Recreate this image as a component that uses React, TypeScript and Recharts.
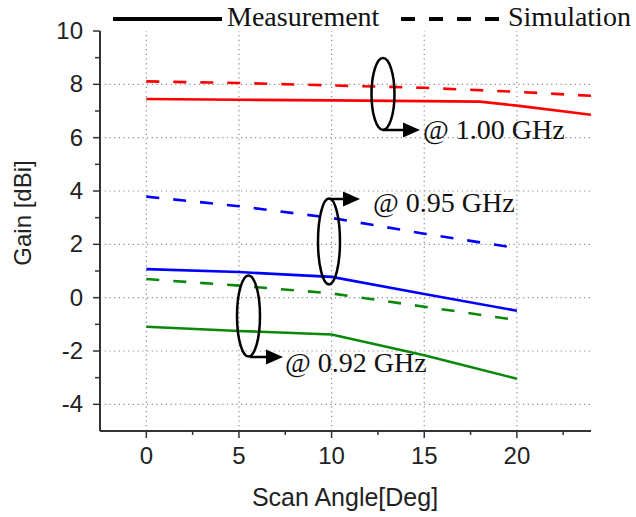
import { LineChart, Line, XAxis, YAxis, ReferenceLine } from 'recharts';

const X_TICKS = [0, 2.5, 5, 7.5, 10, 12.5, 15, 17.5, 20, 22.5];
const X_GRID = [0, 5, 10, 15, 20];
const Y_TICKS = [-4, -3, -2, -1, 0, 1, 2, 3, 4, 5, 6, 7, 8, 9, 10];
const Y_GRID = [-4, -2, 0, 2, 4, 6, 8];

const ANGLES = [0, 5, 10, 15, 20];

// @ 1.00 GHz
const ANGLES_100_MEAS = [0, 5, 10, 15, 18, 20, 24];
const GAIN_100_MEAS = [7.45, 7.42, 7.4, 7.37, 7.35, 7.2, 6.86];
const ANGLES_100_SIM = [0, 5, 10, 15, 20, 24];
const GAIN_100_SIM = [8.11, 8.05, 7.96, 7.87, 7.72, 7.57];

// @ 0.95 GHz
const GAIN_095_MEAS = [1.07, 0.96, 0.78, 0.14, -0.49];
const GAIN_095_SIM = [3.79, 3.43, 2.99, 2.4, 1.86];

// @ 0.92 GHz
const GAIN_092_MEAS = [-1.09, -1.25, -1.38, -2.16, -3.04];
const GAIN_092_SIM = [0.7, 0.45, 0.16, -0.34, -0.84];

const W = 636;
const H = 517;
const AXIS = '#333';
const GRID = '#8a8a8a';
const SANS = '"Liberation Sans", Arial, sans-serif';
const SERIF = '"Liberation Serif", "Times New Roman", serif';
const DASH = '13 14';

const toPoints = (xs: number[], ys: number[]) => xs.map((angle, i) => ({ angle, gain: ys[i] }));

const SERIES = [
  { key: '100m', data: toPoints(ANGLES_100_MEAS, GAIN_100_MEAS), color: '#ff0000', dashed: false },
  { key: '100s', data: toPoints(ANGLES_100_SIM, GAIN_100_SIM), color: '#ff0000', dashed: true },
  { key: '095m', data: toPoints(ANGLES, GAIN_095_MEAS), color: '#0000ff', dashed: false },
  { key: '095s', data: toPoints(ANGLES, GAIN_095_SIM), color: '#0000ff', dashed: true },
  { key: '092m', data: toPoints(ANGLES, GAIN_092_MEAS), color: '#0a880a', dashed: false },
  { key: '092s', data: toPoints(ANGLES, GAIN_092_SIM), color: '#0a880a', dashed: true },
];

function XTick({ x, y, payload }: any) {
  const major = payload.value % 5 === 0;
  return (
    <g>
      <line x1={x} x2={x} y1={y} y2={y + (major ? 7 : 4)} stroke={AXIS} strokeWidth={1.5} />
      {major && (
        <text x={x} y={y + 33} textAnchor="middle" fontSize={24} fontFamily={SANS} fill="#222">
          {payload.value}
        </text>
      )}
    </g>
  );
}

function YTick({ x, y, payload }: any) {
  const major = payload.value % 2 === 0;
  return (
    <g>
      <line x1={x - (major ? 7 : 5)} x2={x} y1={y} y2={y} stroke={AXIS} strokeWidth={1.5} />
      {major && (
        <text x={x - 17} y={y + 8} textAnchor="end" fontSize={24} fontFamily={SANS} fill="#222">
          {payload.value}
        </text>
      )}
    </g>
  );
}

function Arrow({ x1, x2, y }: { x1: number; x2: number; y: number }) {
  return (
    <g>
      <line x1={x1} x2={x2 - 14} y1={y} y2={y} stroke="#000" strokeWidth={2.5} />
      <polygon points={`${x2},${y} ${x2 - 17},${y - 7.5} ${x2 - 17},${y + 7.5}`} fill="#000" />
    </g>
  );
}

function Overlay() {
  return (
    <svg width={W} height={H} style={{ position: 'absolute', left: 0, top: 0, pointerEvents: 'none' }}>
      {/* legend */}
      <line x1={113} x2={222} y1={19} y2={19} stroke="#000" strokeWidth={4} />
      <text x={227} y={26} fontSize={28} fontFamily={SERIF} fill="#111">Measurement</text>
      <line x1={401} x2={500} y1={19} y2={19} stroke="#000" strokeWidth={4} strokeDasharray="14 14" />
      <text x={508} y={26} fontSize={28} fontFamily={SERIF} fill="#111">Simulation</text>

      {/* axis titles */}
      <text x={345} y={506} textAnchor="middle" fontSize={25} fontFamily={SANS} fill="#222">
        Scan Angle[Deg]
      </text>
      <text
        x={31}
        y={213}
        textAnchor="middle"
        fontSize={24}
        fontFamily={SANS}
        fill="#222"
        transform="rotate(-90 31 213)"
      >
        Gain [dBi]
      </text>

      {/* annotations */}
      <ellipse cx={383} cy={94} rx={11.5} ry={36} fill="none" stroke="#000" strokeWidth={2.5} />
      <Arrow x1={383} x2={420} y={130} />
      <text x={423} y={139} fontSize={28} fontFamily={SERIF} fill="#111">@ 1.00 GHz</text>

      <ellipse cx={329} cy={241.5} rx={11} ry={43} fill="none" stroke="#000" strokeWidth={2.5} />
      <Arrow x1={330} x2={360} y={199} />
      <text x={373} y={212} fontSize={28} fontFamily={SERIF} fill="#111">@ 0.95 GHz</text>

      <ellipse cx={248.5} cy={316} rx={11.5} ry={40.5} fill="none" stroke="#000" strokeWidth={2.5} />
      <Arrow x1={250} x2={283} y={357} />
      <text x={285} y={372} fontSize={28} fontFamily={SERIF} fill="#111">@ 0.92 GHz</text>
    </svg>
  );
}

export default function App() {
  return (
    <div style={{ position: 'absolute', left: 0, top: 0, width: W, height: H, background: '#fff' }}>
      <LineChart width={W} height={H} margin={{ top: 31, right: 45, bottom: 0, left: 0 }}>
        <XAxis
          type="number"
          dataKey="angle"
          domain={[-2.5, 24]}
          ticks={X_TICKS}
          interval={0}
          allowDataOverflow
          height={86}
          tickSize={0}
          tickMargin={0}
          tickLine={false}
          tick={<XTick />}
          axisLine={{ stroke: AXIS, strokeWidth: 2 }}
        />
        <YAxis
          type="number"
          dataKey="gain"
          domain={[-5, 10]}
          ticks={Y_TICKS}
          interval={0}
          allowDataOverflow
          width={100}
          tickSize={0}
          tickMargin={0}
          tickLine={false}
          tick={<YTick />}
          axisLine={{ stroke: AXIS, strokeWidth: 2 }}
        />
        {X_GRID.map((v) => (
          <ReferenceLine key={`gx${v}`} x={v} stroke={GRID} strokeWidth={1.2} strokeDasharray="1.2 3.5" />
        ))}
        {Y_GRID.map((v) => (
          <ReferenceLine key={`gy${v}`} y={v} stroke={GRID} strokeWidth={1.2} strokeDasharray="1.2 3.5" />
        ))}
        {SERIES.map((s) => (
          <Line
            key={s.key}
            data={s.data}
            dataKey="gain"
            type="linear"
            stroke={s.color}
            strokeWidth={2.6}
            strokeDasharray={s.dashed ? DASH : undefined}
            dot={false}
            activeDot={false}
            isAnimationActive={false}
          />
        ))}
      </LineChart>
      <Overlay />
    </div>
  );
}
